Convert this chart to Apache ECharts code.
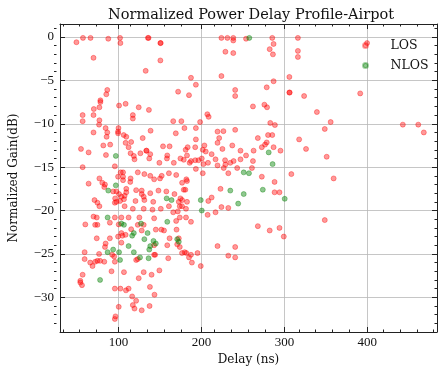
<!DOCTYPE html>
<html>
<head>
<meta charset="utf-8">
<script src="https://cdn.jsdelivr.net/npm/echarts@6/dist/echarts.min.js"></script>
<style>
  html, body { margin: 0; padding: 0; background: #fff; }
  #chart { width: 446px; height: 374px; }
</style>
</head>
<body>
<div id="chart"></div>
<script>

// LOS points, delay (ns) and normalized gain (dB)
var losDelay = [
  49.3, 57.2, 66.3, 87.7, 101.9, 102.3, 135.5, 136.3, 150.5, 150.9, 69.9, 150.5, 132.8, 86.5, 85.3, 78.2, 78.2, 70.3, 77.0, 100.7,
  108.6, 124.4, 136.7, 117.3, 117.3, 56.8, 69.9, 56.8, 77.0, 76.6, 171.9, 166.0, 175.8, 84.5, 86.5, 69.9, 100.0, 99.5, 99.5, 106.3,
  138.7, 169.1,
  85.7, 109.4, 129.2, 90.0, 81.7, 108.6, 112.2, 115.3, 114.6, 118.5, 119.3, 126.4, 133.5, 133.9, 137.1, 138.3, 153.7, 161.6, 158.8, 158.4,
  54.8, 64.0, 84.9, 95.6, 56.8, 149.3, 166.7, 174.7, 102.7, 105.5, 105.5, 105.5, 99.5, 123.3, 131.2, 138.3, 143.0, 150.1, 152.1, 160.8,
  114.6, 114.2, 64.0, 77.0, 80.5, 83.7, 93.6, 97.5, 82.9, 109.4, 109.4, 107.4, 106.6, 100.7, 103.5, 101.9, 96.0, 97.5, 95.6, 121.3,
  128.0, 128.0, 130.4, 120.5, 131.2, 141.9, 138.3, 148.2, 157.7, 167.5, 173.9, 71.1, 74.6, 77.0, 107.4, 117.3, 130.4, 141.0, 151.0, 160.8,
  166.0, 171.5, 176.6, 69.9, 73.8, 95.6, 103.5, 112.2, 125.2, 143.0, 169.5, 173.9, 60.0, 71.9, 74.6, 89.6, 100.3, 123.3, 130.4, 115.3,
  145.0, 151.7, 108.6, 103.5, 99.5, 73.8, 89.6, 161.6, 172.7,
  104.7, 128.0, 154.9, 84.5, 83.7, 103.5, 143.0, 158.8, 59.2, 76.6, 92.4, 94.8, 95.6, 121.3, 123.3, 143.0, 144.2, 160.0, 176.6, 59.2,
  65.9, 68.7, 71.9, 74.6, 77.8, 82.9, 91.6, 106.6, 130.4, 139.9, 149.3, 56.8, 124.4, 54.0, 54.0, 56.0, 95.6, 102.3, 109.0, 112.2,
  137.9, 116.5, 121.3, 117.3, 119.3, 128.0, 143.4, 137.5, 100.3, 96.4, 95.6,
  224.1, 231.3, 238.4, 238.4, 253.8, 285.4, 316.3, 228.9, 238.4, 282.3, 287.0, 286.2, 316.3, 316.3, 187.4, 224.1, 193.3, 185.0, 240.7, 240.7,
  278.7, 287.0, 306.0, 306.0, 306.4, 323.8, 262.1, 275.9, 279.1, 207.1, 208.7, 198.4, 179.5, 193.3, 219.4, 226.5, 240.7, 283.0, 288.6, 280.3,
  285.4,
  193.3, 221.4, 183.4, 181.0, 192.5, 203.6, 201.6, 205.2, 219.4, 225.3, 237.2, 247.1, 262.9, 253.8, 268.0, 278.7, 276.7, 272.8, 287.0, 295.3,
  317.8, 326.1, 182.6, 178.7, 187.4, 185.8, 192.5, 196.5, 200.4, 202.4, 207.9, 212.3, 217.0, 219.4, 228.5, 228.9, 226.9, 232.4, 234.8, 238.8,
  243.1, 247.1, 262.1, 260.9, 272.8, 308.4, 201.6, 193.3, 169.6, 176.7, 181.8, 182.6, 178.7, 180.6, 174.7, 176.7, 172.7, 182.6, 181.4, 187.4,
  181.4, 170.0, 223.0, 288.2, 288.2, 294.1, 212.3, 208.3, 224.1, 232.4, 207.5, 217.0, 268.0, 282.3, 294.1, 299.3,
  170.8, 173.9, 179.8, 181.8, 187.4, 185.0, 188.5, 195.3, 199.2, 219.4, 240.7, 232.4, 240.7,
  399.7, 391.4, 339.2, 355.8, 348.7, 442.8, 461.4, 468.1, 351.0, 359.4, 348.7
];
var losGain = [
  -0.6, -0.1, -0.1, -0.2, -0.1, -0.7, -0.1, -0.1, -0.7, -0.7, -2.4, -2.7, -3.9, -6.1, -6.6, -7.3, -7.5, -8.3, -8.1, -7.9,
  -7.7, -8.1, -8.4, -9.0, -9.4, -9.0, -9.0, -9.7, -9.6, -10.1, -6.3, -9.7, -9.7, -10.5, -11.0, -11.0, -10.5, -10.9, -11.1, -11.3,
  -10.8, -11.1,
  -11.5, -11.5, -11.65, -12.4, -12.5, -12.2, -12.7, -12.1, -13.4, -13.7, -14.1, -13.4, -13.1, -13.1, -14.0, -13.5, -12.6, -12.6, -13.65, -14.0,
  -12.9, -13.3, -13.6, -14.9, -15.0, -14.5, -14.5, -14.0, -15.6, -15.6, -16.1, -16.5, -16.1, -15.6, -15.8, -16.0, -16.4, -16.3, -16.0, -15.7,
  -16.3, -16.7, -16.9, -16.3, -16.8, -17.0, -17.8, -17.8, -17.3, -17.5, -17.9, -18.3, -18.7, -18.1, -18.4, -18.9, -18.6, -19.0, -19.1, -17.65,
  -17.7, -18.1, -18.4, -18.9, -18.8, -19.0, -18.0, -17.7, -17.8, -18.1, -19.5, -18.8, -19.1, -19.5, -19.5, -19.8, -19.8, -19.9, -19.8, -19.5,
  -20.2, -20.1, -19.5, -20.7, -20.8, -20.8, -20.8, -20.8, -20.8, -20.9, -21.2, -20.8, -21.6, -21.65, -21.65, -21.4, -21.6, -21.65, -21.65, -22.15,
  -22.2, -22.2, -22.8, -22.6, -23.0, -23.2, -23.2, -23.2, -23.2,
  -22.9, -22.3, -22.3, -23.8, -24.2, -23.7, -24.0, -24.0, -24.8, -25.0, -25.1, -25.3, -25.9, -25.7, -25.6, -25.1, -25.1, -25.5, -24.9, -25.6,
  -26.0, -26.4, -25.9, -25.8, -25.8, -25.9, -27.0, -27.1, -27.1, -27.4, -26.9, -27.4, -27.8, -28.1, -28.3, -28.6, -29.0, -29.0, -29.2, -29.0,
  -28.8, -29.9, -30.4, -30.9, -31.3, -31.5, -29.7, -31.0, -31.1, -32.2, -32.5,
  -0.1, -0.1, -0.1, -0.4, -0.2, -0.1, -0.1, -1.7, -1.85, -1.4, -0.8, -2.0, -1.6, -2.3, -4.7, -4.5, -5.5, -6.7, -6.1, -6.8,
  -5.8, -5.1, -4.6, -6.4, -6.4, -6.8, -8.0, -7.8, -8.1, -8.9, -9.2, -9.8, -10.5, -10.5, -10.9, -10.85, -10.7, -9.9, -10.15, -11.3,
  -11.3,
  -11.8, -11.65, -12.7, -13.0, -12.7, -12.5, -13.0, -13.2, -12.2, -12.9, -12.5, -13.1, -13.1, -13.65, -11.65, -12.15, -12.4, -12.7, -12.7, -13.1,
  -11.8, -12.9, -13.65, -14.15, -14.3, -14.5, -14.2, -14.2, -14.0, -14.65, -14.5, -13.5, -14.1, -14.8, -14.2, -14.7, -15.1, -15.7, -14.5, -14.3,
  -15.1, -14.1, -14.3, -15.1, -16.1, -15.8, -15.7, -15.2, -15.9, -16.8, -16.4, -16.6, -17.6, -17.6, -18.6, -18.8, -19.0, -19.0, -19.8, -21.3,
  -20.8, -22.2, -17.5, -16.7, -17.9, -17.9, -18.5, -18.9, -19.6, -19.7, -20.5, -20.2, -21.8, -22.3, -22.0, -23.0,
  -23.9, -24.2, -24.8, -24.9, -25.1, -25.4, -26.0, -24.9, -26.4, -24.1, -24.2, -25.2, -25.4,
  -0.7, -6.5, -8.65, -9.8, -10.6, -10.1, -10.1, -11.0, -13.8, -16.3, -21.1
];

// NLOS points
var nlosDelay = [
  96.8, 96.8, 87.7, 158.1, 164.0, 86.9, 158.8, 103.5, 106.6, 127.2, 135.1, 118.5, 116.5, 131.2,
  112.2, 142.2, 145.0, 138.3, 137.1, 86.9, 93.6, 100.7, 101.9, 118.5, 126.0, 136.3, 77.8,
  257.7, 281.1, 285.8, 251.0, 257.3, 234.8, 251.0, 274.0, 300.4, 199.2, 244.3, 200.4, 170.8, 172.7
];
var nlosGain = [
  -13.7, -17.1, -17.7, -18.6, -18.8, -20.8, -21.3, -21.5, -21.65, -21.5, -22.6, -22.6, -22.9, -23.3,
  -24.1, -23.5, -23.8, -24.1, -24.5, -24.8, -24.5, -24.8, -25.7, -24.8, -25.4, -25.5, -28.0,
  -0.1, -13.3, -14.65, -15.6, -15.7, -17.7, -18.1, -17.6, -18.65, -18.8, -19.2, -20.0, -23.3, -23.6
];

var xTicks = [100, 200, 300, 400];
var xMinor = [40, 60, 80, 120, 140, 160, 180, 220, 240, 260, 280, 320, 340, 360, 380, 420, 440, 460, 480];
var yTicks = [0, -5, -10, -15, -20, -25, -30];
var yMinor = [1, -1, -2, -3, -4, -6, -7, -8, -9, -11, -12, -13, -14, -16, -17, -18, -19, -21, -22, -23, -24, -26, -27, -28, -29, -31, -32, -33];

function zip(a, b) {
  var out = [];
  for (var i = 0; i < a.length; i++) out.push([a[i], b[i]]);
  return out;
}

var serif = 'DejaVu Serif';
var numFont = 'Liberation Serif';
var X_MIN = 29.5, X_MAX = 484, Y_MIN = -34, Y_MAX = 1.5;
var plotRect = { left: 54, right: 9, top: 24, bottom: 42, containLabel: false };

function fmtMinus(v) {
  return v < 0 ? '\u2212' + Math.abs(v) : String(v);
}

// main axes live on grid 0, minor-tick axes on grid 1 (same rect)
function xAx(grid, pos, ticks, len) {
  var main = grid == 0, lab = main && pos == 'bottom';
  return {
    type: 'value', gridIndex: grid, position: pos, min: X_MIN, max: X_MAX, splitNumber: 5,
    axisLine: { show: main, onZero: false, lineStyle: { color: '#222', width: 1 } },
    axisTick: { show: true, inside: true, length: len, customValues: ticks, lineStyle: { color: '#222', width: 1 } },
    axisLabel: { show: lab, customValues: xTicks, margin: 4,
      fontFamily: numFont, fontSize: 13, color: '#111' },
    splitLine: { show: lab, lineStyle: { color: '#b8b8b8', width: 0.8 } },
    name: lab ? 'Delay (ns)' : '',
    nameLocation: 'middle', nameGap: 21,
    nameTextStyle: { fontFamily: serif, fontSize: 12, color: '#111' }
  };
}

function yAx(grid, pos, ticks, len) {
  var main = grid == 0, lab = main && pos == 'left';
  return {
    type: 'value', gridIndex: grid, position: pos, min: Y_MIN, max: Y_MAX, splitNumber: 7,
    axisLine: { show: main, onZero: false, lineStyle: { color: '#222', width: 1 } },
    axisTick: { show: true, inside: true, length: len, customValues: ticks, lineStyle: { color: '#222', width: 1 } },
    axisLabel: { show: lab, customValues: yTicks, margin: 6,
      fontFamily: numFont, fontSize: 13, color: '#111', formatter: fmtMinus },
    splitLine: { show: lab, lineStyle: { color: '#b8b8b8', width: 0.8 } },
    name: lab ? 'Normalized Gain(dB)' : '',
    nameLocation: 'middle', nameGap: 40, nameRotate: 90,
    nameTextStyle: { fontFamily: serif, fontSize: 12, color: '#111' }
  };
}

var myChart = echarts.init(document.getElementById('chart'), null, { renderer: 'canvas' });

var option = {
  backgroundColor: '#fff',
  animation: false,
  title: {
    text: 'Normalized Power Delay Profile-Airpot',
    left: 246, top: 3, textAlign: 'center',
    textStyle: { fontFamily: serif, fontSize: 14.5, fontWeight: 'normal', color: '#111' }
  },
  legend: {
    orient: 'vertical',
    left: 357, top: 34,
    itemWidth: 40, itemHeight: 5, itemGap: 7,
    icon: 'circle',
    textStyle: { fontFamily: serif, fontSize: 12.5, color: '#111', lineHeight: 13 },
    data: ['LOS', 'NLOS']
  },
  grid: [plotRect, plotRect],
  xAxis: [
    xAx(0, 'bottom', xTicks, 5),
    xAx(0, 'top', xTicks, 5),
    xAx(1, 'bottom', xMinor, 2.5),
    xAx(1, 'top', xMinor, 2.5)
  ],
  yAxis: [
    yAx(0, 'left', yTicks, 5),
    yAx(0, 'right', yTicks, 5),
    yAx(1, 'left', yMinor, 2.5),
    yAx(1, 'right', yMinor, 2.5)
  ],
  series: [
    {
      name: 'LOS', type: 'scatter', symbolSize: 5, xAxisIndex: 0, yAxisIndex: 0,
      itemStyle: { color: 'rgba(255,0,0,0.5)', borderColor: 'rgba(255,0,0,0.45)', borderWidth: 1 },
      data: zip(losDelay, losGain)
    },
    {
      name: 'NLOS', type: 'scatter', symbolSize: 5, xAxisIndex: 0, yAxisIndex: 0,
      itemStyle: { color: 'rgba(0,128,0,0.55)', borderColor: 'rgba(0,128,0,0.45)', borderWidth: 1 },
      data: zip(nlosDelay, nlosGain)
    }
  ]
};

myChart.setOption(option);

</script>
</body>
</html>
